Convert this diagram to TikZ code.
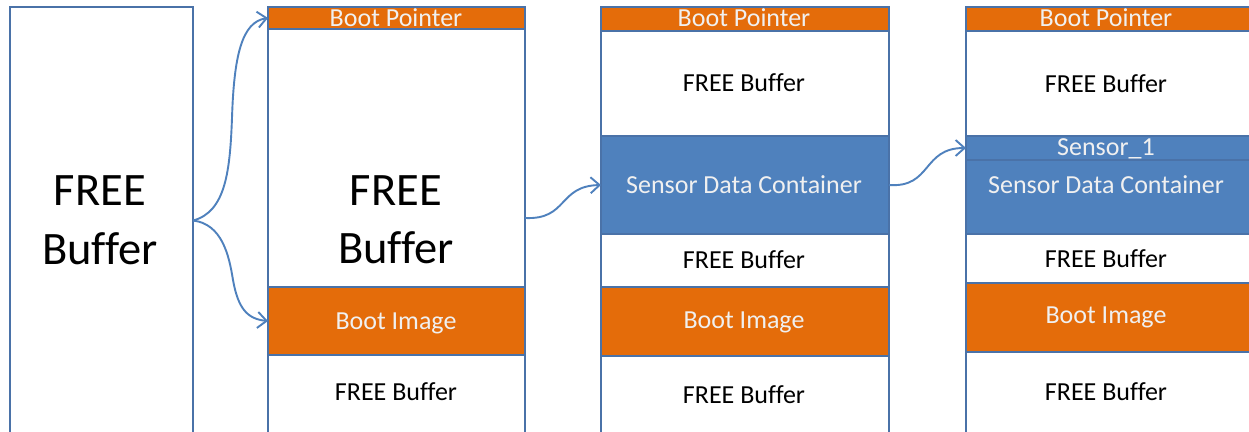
\documentclass[tikz,border=0pt]{standalone}
\usepackage{fontspec}
\setmainfont{Carlito}[Ligatures=NoCommon]
\usetikzlibrary{arrows.meta}
\definecolor{orangefill}{HTML}{E46C0A}
\definecolor{bluefill}{HTML}{4F81BD}
\definecolor{bordc}{HTML}{4A72A8}
\definecolor{arrowc}{HTML}{4F81BD}
\newcommand\cellbox[6]{%
  \pgfmathsetmacro\cellw{#4-#2}\pgfmathsetmacro\cellh{#5-#3}%
  \node[cellbase,#6,minimum width=\cellw pt,minimum height=\cellh pt,anchor=north west] (#1) at (#2,#3) {};}
\tikzset{
  cellbase/.style={draw=bordc,line width=1.3pt,inner sep=0pt,outer sep=0pt},
  whitecell/.style={fill=white},
  orangecell/.style={fill=orangefill},
  bluecell/.style={fill=bluefill},
  bigtxt/.style={anchor=base,font=\fontsize{46.5}{54}\selectfont,text=black,inner sep=0pt},
  darktxt/.style={anchor=base,font=\fontsize{26}{30}\selectfont,text=black,inner sep=0pt},
  lighttxt/.style={anchor=base,font=\fontsize{26}{30}\selectfont,text=white!94!black,inner sep=0pt},
  conn/.style={draw=arrowc,line width=1.9pt,-{Straight Barb[length=9pt,width=16pt]}}
}
\begin{document}
\begin{tikzpicture}[x=1pt,y=-1pt]
\useasboundingbox (0,0) rectangle (1249,431);
\fill[white] (0,0) rectangle (1249,431);
% column 1
\cellbox{c1}{10}{7}{193}{434}{whitecell}
\node[bigtxt] (c1t1) at (100,205) {FREE};
\node[bigtxt] (c1t2) at (100,264) {Buffer};
% column 2
\cellbox{c2bp}{268}{7}{525}{29}{orangecell}
\cellbox{c2free}{268}{29}{525}{287}{whitecell}
\cellbox{c2img}{268}{287}{525}{355}{orangecell}
\cellbox{c2free2}{268}{355}{525}{434}{whitecell}
\node[lighttxt] (c2bpt) at (396,26) {Boot Pointer};
\node[bigtxt] (c2t1) at (396,205) {FREE};
\node[bigtxt] (c2t2) at (396,263) {Buffer};
\node[lighttxt] (c2imgt) at (396,329) {Boot Image};
\node[darktxt] (c2free2t) at (396,400) {FREE Buffer};
% column 3
\cellbox{c3bp}{601}{7}{889}{31}{orangecell}
\cellbox{c3free}{601}{31}{889}{136}{whitecell}
\cellbox{c3sdc}{601}{136}{889}{234}{bluecell}
\cellbox{c3free2}{601}{234}{889}{287}{whitecell}
\cellbox{c3img}{601}{287}{889}{356}{orangecell}
\cellbox{c3free3}{601}{356}{889}{434}{whitecell}
\node[lighttxt] (c3bpt) at (744,27) {Boot Pointer};
\node[darktxt] (c3freet) at (744,91) {FREE Buffer};
\node[lighttxt] (c3sdct) at (744,193) {Sensor Data Container};
\node[darktxt] (c3free2t) at (744,268) {FREE Buffer};
\node[lighttxt] (c3imgt) at (744,328) {Boot Image};
\node[darktxt] (c3free3t) at (744,403) {FREE Buffer};
% column 4
\cellbox{c4bp}{966}{7}{1253}{31}{orangecell}
\cellbox{c4free}{966}{31}{1253}{136}{whitecell}
\cellbox{c4s1}{966}{136}{1253}{160}{bluecell}
\cellbox{c4sdc}{966}{160}{1253}{234}{bluecell}
\cellbox{c4free2}{966}{234}{1253}{283}{whitecell}
\cellbox{c4img}{966}{283}{1253}{352}{orangecell}
\cellbox{c4free3}{966}{352}{1253}{434}{whitecell}
\node[lighttxt] (c4bpt) at (1106,27) {Boot Pointer};
\node[darktxt] (c4freet) at (1106,92) {FREE Buffer};
\node[lighttxt] (c4s1t) at (1106,155) {Sensor\_1};
\node[lighttxt] (c4sdct) at (1106,193) {Sensor Data Container};
\node[darktxt] (c4free2t) at (1106,267) {FREE Buffer};
\node[lighttxt] (c4imgt) at (1106,323) {Boot Image};
\node[darktxt] (c4free3t) at (1106,400) {FREE Buffer};
% connectors
\draw[conn] (c1.east) .. controls (226,212) and (230,170) .. (232,118)
  .. controls (234,55) and (242,22) .. (c2bp.west);
\draw[conn] (c1.east) .. controls (222,224) and (229,255) .. (233,280)
  .. controls (238,308) and (247,319) .. (c2img.west);
\draw[conn] ([yshift=-60pt]c2free.east) .. controls (568,220) and (558,186) .. (c3sdc.west);
\draw[conn] (c3sdc.east) .. controls (932,188) and (922,148) .. (c4s1.west);
\end{tikzpicture}
\end{document}
